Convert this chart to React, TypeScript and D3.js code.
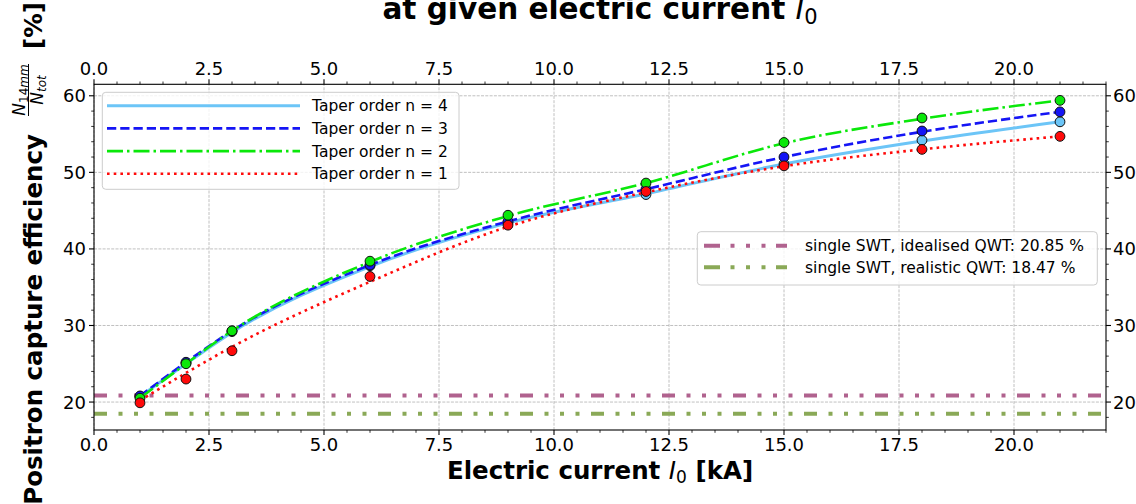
import React from "react";
import * as d3 from "d3";

// ---- data ----
const currents = [1, 2, 3, 6, 9, 12, 15, 18, 21];
const n4Points = [20.7, 25.1, 29.2, 37.8, 43.4, 47.1, 51.1, 54.2, 56.6];
const n3Points = [20.8, 25.2, 29.3, 37.9, 43.6, 47.8, 52.0, 55.4, 57.9];
const n2Points = [20.5, 25.0, 29.3, 38.4, 44.4, 48.6, 53.9, 57.1, 59.4];
const n1Points = [19.9, 23.0, 26.7, 36.4, 43.1, 47.5, 50.85, 53.0, 54.7];
// fitted curves drawn as lines (at the same currents)
const n4Fit = [20.7, 25.0, 29.1, 37.7, 43.4, 47.2, 51.1, 54.1, 56.6];
const n3Fit = [20.8, 25.2, 29.3, 37.9, 43.6, 47.8, 52.0, 55.3, 57.9];
const n2Fit = [20.5, 25.0, 29.3, 38.3, 44.3, 48.6, 53.8, 57.0, 59.4];
const n1Fit = [20.2, 23.8, 27.2, 35.7, 42.9, 47.4, 50.8, 53.0, 54.7];
const seriesLabels = ["Taper order n = 4", "Taper order n = 3", "Taper order n = 2", "Taper order n = 1"];
const refLabels = ["single SWT, idealised QWT: 20.85 %", "single SWT, realistic QWT: 18.47 %"];
const refValues = [20.85, 18.47];
const xMajorTicks = [0, 2.5, 5, 7.5, 10, 12.5, 15, 17.5, 20];
const yMajorTicks = [20, 30, 40, 50, 60];

const W = 1136, H = 504;
const FONT = "DejaVu Sans";

export default function App() {
  const x = d3.scaleLinear().domain([0, 22]).range([94, 1106]);
  const y = d3.scaleLinear().domain([16.35, 61.5]).range([430, 84.3]);
  const [x0, x1] = x.range();
  const [yb, yt] = y.range();

  const xMinor = d3.range(0, 22.01, 0.5).filter((v) => Math.abs(v / 2.5 - Math.round(v / 2.5)) > 1e-6);
  const yMinor = d3.range(18, 61, 2).filter((v) => v % 10 !== 0);

  const series = [
    { fit: n4Fit, pts: n4Points, color: "#6cc5f7", dash: "none", w: 3 },
    { fit: n3Fit, pts: n3Points, color: "#1515f5", dash: "9.25,4", w: 2.6 },
    { fit: n2Fit, pts: n2Points, color: "#0ae80a", dash: "16,4,2.5,4", w: 2.6 },
    { fit: n1Fit, pts: n1Points, color: "#ff0a0a", dash: "2.6,4.1", w: 2.6 },
  ];
  const refColors = ["#b0628e", "#8aa957"];
  const refDash = "13,11.5,4,11.5,4,11.5,4,11.5";

  const line = d3
    .line<number>()
    .x((_, i) => x(currents[i]))
    .y((d) => y(d))
    .curve(d3.curveMonotoneX);

  const tickFs = 18;
  const legFs = 15.5;

  return (
    <svg width={W} height={H} style={{ position: "absolute", left: 0, top: 0, background: "#fff" }} fontFamily={FONT}>
      <rect x={0} y={0} width={W} height={H} fill="#fff" />
      {/* title (second line visible) */}
      <text x={600} y={19} textAnchor="middle" fontSize={29.5} fontWeight="bold">
        at given electric current{" "}
        <tspan fontStyle="italic" fontWeight="normal">I</tspan>
        <tspan fontWeight="normal" fontSize={21} dy={5}>0</tspan>
      </text>

      {/* grid */}
      <g stroke="#b0b0b0" strokeWidth={0.8} strokeDasharray="3,1.3">
        {xMajorTicks.map((t) => (
          <line key={"gx" + t} x1={x(t)} x2={x(t)} y1={yb} y2={yt} />
        ))}
        {yMajorTicks.map((t) => (
          <line key={"gy" + t} x1={x0} x2={x1} y1={y(t)} y2={y(t)} />
        ))}
      </g>

      {/* reference lines */}
      {refValues.map((v, i) => (
        <line key={"ref" + i} x1={x0} x2={x1} y1={y(v)} y2={y(v)} stroke={refColors[i]} strokeWidth={4} strokeDasharray={refDash} />
      ))}

      {/* series */}
      {series.map((s, si) => (
        <g key={"s" + si}>
          <path d={line(s.fit) || ""} fill="none" stroke={s.color} strokeWidth={s.w} strokeDasharray={s.dash} />
          {s.pts.map((v, i) => (
            <circle key={i} cx={x(currents[i])} cy={y(v)} r={4.9} fill={s.color} stroke="#111" strokeWidth={1} />
          ))}
        </g>
      ))}

      {/* spines */}
      <rect x={x0} y={yt} width={x1 - x0} height={yb - yt} fill="none" stroke="#000" strokeWidth={1.1} />

      {/* x ticks bottom & top */}
      <g stroke="#000">
        {xMajorTicks.map((t) => (
          <g key={"xt" + t}>
            <line x1={x(t)} x2={x(t)} y1={yb} y2={yb + 5} strokeWidth={1.1} />
            <line x1={x(t)} x2={x(t)} y1={yt} y2={yt - 5} strokeWidth={1.1} />
          </g>
        ))}
        {xMinor.map((t) => (
          <g key={"xm" + t}>
            <line x1={x(t)} x2={x(t)} y1={yb} y2={yb + 2.8} strokeWidth={0.8} />
            <line x1={x(t)} x2={x(t)} y1={yt} y2={yt - 2.8} strokeWidth={0.8} />
          </g>
        ))}
        {yMajorTicks.map((t) => (
          <g key={"yt" + t}>
            <line x1={x0} x2={x0 - 5} y1={y(t)} y2={y(t)} strokeWidth={1.1} />
            <line x1={x1} x2={x1 + 5} y1={y(t)} y2={y(t)} strokeWidth={1.1} />
          </g>
        ))}
        {yMinor.map((t) => (
          <g key={"ym" + t}>
            <line x1={x0} x2={x0 - 2.8} y1={y(t)} y2={y(t)} strokeWidth={0.8} />
            <line x1={x1} x2={x1 + 2.8} y1={y(t)} y2={y(t)} strokeWidth={0.8} />
          </g>
        ))}
      </g>
      <g fontSize={tickFs} fill="#000">
        {xMajorTicks.map((t) => (
          <g key={"xl" + t}>
            <text x={x(t)} y={yb + 21} textAnchor="middle">{t.toFixed(1)}</text>
            <text x={x(t)} y={yt - 9} textAnchor="middle">{t.toFixed(1)}</text>
          </g>
        ))}
        {yMajorTicks.map((t) => (
          <g key={"yl" + t}>
            <text x={x0 - 8} y={y(t) + 6.5} textAnchor="end">{t}</text>
            <text x={x1 + 7} y={y(t) + 6.5} textAnchor="start">{t}</text>
          </g>
        ))}
      </g>

      {/* x label */}
      <text x={600} y={479} textAnchor="middle" fontSize={24.5} fontWeight="bold">
        Electric current{" "}
        <tspan fontStyle="italic" fontWeight="normal">I</tspan>
        <tspan fontWeight="normal" fontSize={17} dy={4}>0</tspan>
        <tspan dy={-4}> [kA]</tspan>
      </text>

      {/* y label */}
      <g transform="translate(42,0) rotate(-90)">
        <text x={-134} y={0} textAnchor="end" fontSize={24.5} fontWeight="bold">Positron capture efficiency</text>
        <text x={-90} y={-17} textAnchor="middle" fontSize={17}>
          <tspan fontStyle="italic">N</tspan>
          <tspan fontSize={12} dy={3}>14</tspan>
          <tspan fontSize={12} fontStyle="italic">mm</tspan>
        </text>
        <line x1={-116} x2={-64} y1={-13.5} y2={-13.5} stroke="#000" strokeWidth={1} />
        <text x={-90} y={0.5} textAnchor="middle" fontSize={17}>
          <tspan fontStyle="italic">N</tspan>
          <tspan fontSize={12} fontStyle="italic" dy={3}>tot</tspan>
        </text>
        <text x={-49} y={0} textAnchor="start" fontSize={24.5} fontWeight="bold">[%]</text>
      </g>

      {/* legend 1 */}
      <g>
        <rect x={102.3} y={92.3} width={356.7} height={97} rx={3.5} fill="#fff" fillOpacity={0.8} stroke="#cccccc" strokeWidth={1} />
        {series.map((s, i) => {
          const ly = 105.7 + i * 22.7;
          return (
            <g key={"lg" + i}>
              <line x1={107} x2={300} y1={ly} y2={ly} stroke={s.color} strokeWidth={s.w} strokeDasharray={s.dash} />
              <text x={312} y={ly + 5.5} fontSize={legFs}>{seriesLabels[i]}</text>
            </g>
          );
        })}
      </g>

      {/* legend 2 */}
      <g>
        <rect x={697.3} y={231.7} width={400} height={53.3} rx={3.5} fill="#fff" fillOpacity={0.8} stroke="#cccccc" strokeWidth={1} />
        {refLabels.map((lab, i) => {
          const ly = 245.7 + i * 21.6;
          return (
            <g key={"lr" + i}>
              <line x1={704} x2={787} y1={ly} y2={ly} stroke={refColors[i]} strokeWidth={4} strokeDasharray="16,10.5,4,11.5,4,11.5,4,10.5" />
              <text x={805} y={ly + 5.5} fontSize={legFs}>{lab}</text>
            </g>
          );
        })}
      </g>
    </svg>
  );
}
